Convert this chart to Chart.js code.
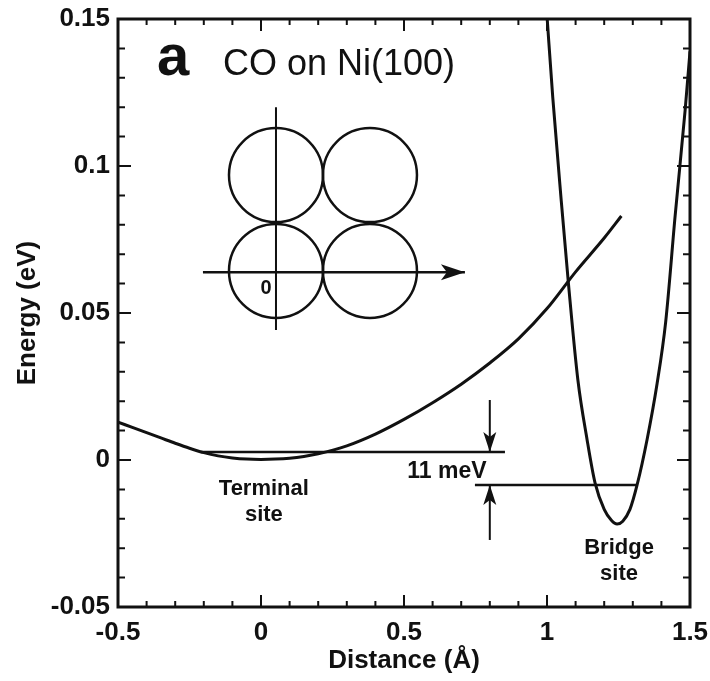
<!DOCTYPE html>
<html>
<head>
<meta charset="utf-8">
<title>CO on Ni(100)</title>
<script src="https://cdn.jsdelivr.net/npm/chart.js@4.4.1/dist/chart.umd.min.js"></script>
<style>
  html, body { margin: 0; padding: 0; background: #fff; }
  #wrap { width: 710px; height: 681px; position: relative; }
</style>
</head>
<body>
<div id="wrap"><canvas id="chart"></canvas></div>
<script>
// tick labels
const xTickValues = [-0.5, 0, 0.5, 1, 1.5];
const xTickLabels = ['-0.5', '0', '0.5', '1', '1.5'];
const yTickValues = [-0.05, 0, 0.05, 0.1, 0.15];
const yTickLabels = ['-0.05', '0', '0.05', '0.1', '0.15'];

// terminal site potential (Distance in Å, Energy in eV)
const terminalX = [-0.5, -0.45, -0.4, -0.35, -0.3, -0.25, -0.2, -0.15, -0.1, -0.05, 0, 0.05, 0.1, 0.15, 0.2, 0.3, 0.4, 0.5, 0.6, 0.7, 0.8, 0.9, 1.0, 1.1, 1.2, 1.26];
const terminalE = [0.0129, 0.0111, 0.0093, 0.0075, 0.0057, 0.0040, 0.0025, 0.0014, 0.0007, 0.0003, 0.0002, 0.0003, 0.0006, 0.0012, 0.0021, 0.0048, 0.0088, 0.0138, 0.0195, 0.0258, 0.0330, 0.0412, 0.0515, 0.0640, 0.0755, 0.0830];

// bridge site potential
const bridgeX = [1.0, 1.02, 1.05, 1.075, 1.108, 1.14, 1.168, 1.2, 1.225, 1.245, 1.265, 1.29, 1.315, 1.35, 1.385, 1.415, 1.448, 1.483, 1.5];
const bridgeE = [0.151, 0.1235, 0.088, 0.060, 0.0272, 0.007, -0.0078, -0.0168, -0.0205, -0.0218, -0.0208, -0.0168, -0.0085, 0.007, 0.026, 0.047, 0.083, 0.119, 0.139];

// zero point levels and the 11 meV gap
const terminalLevelX = [-0.21, 0.853];
const terminalLevelE = 0.0027;
const bridgeLevelX = [0.748, 1.318];
const bridgeLevelE = -0.0085;
const gapArrowX = 0.80;
const downArrowE = [0.0204, 0.0027];
const upArrowE = [-0.0272, -0.0085];

// inset: Ni(100) atoms and the path
const atomX = [0.0524, 0.381];
const atomE = [0.0969, 0.0643];
const insetAxisX = 0.0524;
const insetAxisE = [0.120, 0.0442];
const insetPathX = [-0.203, 0.713];
const insetPathE = 0.0639;

const FONT = "'Liberation Sans', Arial, Helvetica, sans-serif";
const INK = '#111';

function pick(values, labels, v) {
  for (let i = 0; i < values.length; i++) {
    if (Math.abs(values[i] - v) < 1e-6) return labels[i];
  }
  return '';
}

function line(xs, ys) {
  return xs.map((x, i) => ({ x: x, y: Array.isArray(ys) ? ys[i] : ys }));
}

const atoms = [];
atomE.forEach(e => atomX.forEach(x => atoms.push({ x: x, y: e })));

// texts placed in data coordinates
const notes = [
  { text: 'Terminal', x: 0.01, y: -0.0099, font: 'bold 22px ' + FONT },
  { text: 'site', x: 0.01, y: -0.0187, font: 'bold 22px ' + FONT },
  { text: 'Bridge', x: 1.252, y: -0.0300, font: 'bold 22px ' + FONT },
  { text: 'site', x: 1.252, y: -0.0386, font: 'bold 22px ' + FONT },
  { text: '11 meV', x: 0.650, y: -0.0041, font: 'bold 23px ' + FONT },
  { text: '0', x: 0.0175, y: 0.0585, font: 'bold 20px ' + FONT }
];

const decor = {
  id: 'decor',
  afterDatasetsDraw(chart) {
    const { ctx, chartArea: a, scales: { x, y } } = chart;
    ctx.save();
    ctx.fillStyle = INK;
    ctx.strokeStyle = INK;

    // arrow heads on flagged datasets
    chart.data.datasets.forEach((ds, i) => {
      if (!ds.arrowHead) return;
      const pts = chart.getDatasetMeta(i).data;
      const p1 = pts[pts.length - 2], p2 = pts[pts.length - 1];
      const ang = Math.atan2(p2.y - p1.y, p2.x - p1.x);
      const len = ds.arrowHead[0], w = ds.arrowHead[1];
      ctx.save();
      ctx.translate(p2.x, p2.y);
      ctx.rotate(ang);
      ctx.beginPath();
      ctx.moveTo(0, 0);
      ctx.lineTo(-len, -w / 2);
      ctx.lineTo(-len * 0.75, 0);
      ctx.lineTo(-len, w / 2);
      ctx.closePath();
      ctx.fill();
      ctx.restore();
    });

    // inward ticks on all four sides
    ctx.lineWidth = 2;
    ctx.beginPath();
    x.ticks.forEach(t => {
      const px = x.getPixelForValue(t.value);
      const l = t.label ? 12 : 6;
      ctx.moveTo(px, a.bottom); ctx.lineTo(px, a.bottom - l);
      ctx.moveTo(px, a.top); ctx.lineTo(px, a.top + l);
    });
    y.ticks.forEach(t => {
      const py = y.getPixelForValue(t.value);
      const l = t.label ? 13 : 7;
      ctx.moveTo(a.left, py); ctx.lineTo(a.left + l, py);
      ctx.moveTo(a.right, py); ctx.lineTo(a.right - l, py);
    });
    ctx.stroke();

    // frame
    ctx.lineWidth = 3;
    ctx.strokeRect(a.left, a.top, a.right - a.left, a.bottom - a.top);

    // panel label and title
    ctx.textBaseline = 'alphabetic';
    ctx.textAlign = 'left';
    ctx.font = 'bold 58px ' + FONT;
    ctx.fillText('a', x.getPixelForValue(-0.364), y.getPixelForValue(0.131));
    ctx.font = '36px ' + FONT;
    ctx.fillText('CO on Ni(100)', x.getPixelForValue(-0.133), y.getPixelForValue(0.131));

    // notes
    ctx.textAlign = 'center';
    ctx.textBaseline = 'middle';
    notes.forEach(n => {
      ctx.font = n.font;
      ctx.fillText(n.text, x.getPixelForValue(n.x), y.getPixelForValue(n.y));
    });
    ctx.restore();
  }
};

const curve = { showLine: true, borderColor: INK, borderWidth: 3, pointRadius: 0, cubicInterpolationMode: 'monotone', clip: 0 };
const thin = { showLine: true, borderColor: INK, borderWidth: 2.5, pointRadius: 0, clip: 0 };

new Chart(document.getElementById('chart'), {
  type: 'scatter',
  data: {
    datasets: [
      Object.assign({ label: 'Terminal', data: line(terminalX, terminalE) }, curve),
      Object.assign({ label: 'Bridge', data: line(bridgeX, bridgeE) }, curve),
      Object.assign({ label: 'Terminal level', data: line(terminalLevelX, terminalLevelE) }, thin),
      Object.assign({ label: 'Bridge level', data: line(bridgeLevelX, bridgeLevelE) }, thin),
      Object.assign({ label: 'gap down', data: line([gapArrowX, gapArrowX], downArrowE), arrowHead: [20, 13] }, thin, { borderWidth: 2 }),
      Object.assign({ label: 'gap up', data: line([gapArrowX, gapArrowX], upArrowE), arrowHead: [20, 13] }, thin, { borderWidth: 2 }),
      Object.assign({ label: 'inset axis', data: line([insetAxisX, insetAxisX], insetAxisE) }, thin, { borderWidth: 2 }),
      Object.assign({ label: 'inset path', data: line(insetPathX, insetPathE), arrowHead: [24, 16] }, thin, { borderWidth: 2.5 }),
      {
        label: 'atoms', data: atoms, showLine: false, pointStyle: 'circle', pointRadius: 47, pointHoverRadius: 47,
        pointBorderWidth: 2.5, pointBorderColor: INK, pointBackgroundColor: 'rgba(0,0,0,0)', clip: 0
      }
    ]
  },
  options: {
    responsive: true,
    maintainAspectRatio: false,
    animation: false,
    events: [],
    layout: { autoPadding: false, padding: { top: 19, right: 20, left: 0, bottom: 0 } },
    plugins: { legend: { display: false }, tooltip: { enabled: false } },
    scales: {
      x: {
        type: 'linear', min: -0.5, max: 1.5,
        grid: { display: false, drawTicks: false },
        border: { display: false },
        ticks: {
          stepSize: 0.1, autoSkip: false, maxRotation: 0, padding: 10, color: INK,
          font: { family: FONT, size: 26, weight: 'bold' },
          callback: v => pick(xTickValues, xTickLabels, v)
        },
        title: { display: true, text: 'Distance (Å)', color: INK, padding: { top: 0, bottom: 5 },
          font: { family: FONT, size: 26, weight: 'bold' } },
        afterFit(scale) { scale.height = 74; scale.paddingLeft = 0; scale.paddingRight = 0; }
      },
      y: {
        type: 'linear', min: -0.05, max: 0.15,
        grid: { display: false, drawTicks: false },
        border: { display: false },
        ticks: {
          stepSize: 0.01, autoSkip: false, padding: 8, color: INK,
          font: { family: FONT, size: 26, weight: 'bold' },
          callback: v => pick(yTickValues, yTickLabels, v)
        },
        title: { display: true, text: 'Energy (eV)', color: INK, padding: { top: 12, bottom: 0 },
          font: { family: FONT, size: 26, weight: 'bold' } },
        afterFit(scale) { scale.width = 118; scale.paddingTop = 0; scale.paddingBottom = 0; }
      }
    }
  },
  plugins: [decor]
});
</script>
</body>
</html>
